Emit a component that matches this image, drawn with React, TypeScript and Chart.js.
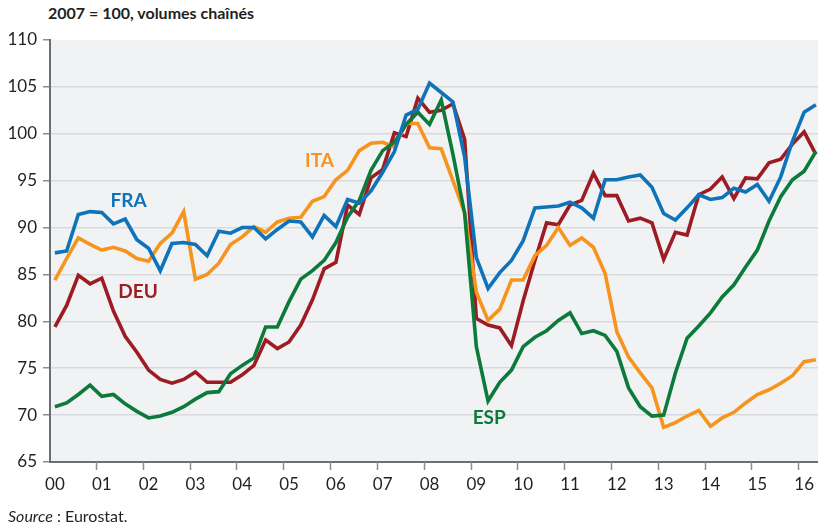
import React, { useEffect, useRef } from 'react';
import { Chart, registerables } from 'chart.js';

Chart.register(...registerables);

// Quarterly values, 2000 Q1 to 2016 Q2 (index 2007 = 100)
const yearLabels = ['00', '01', '02', '03', '04', '05', '06', '07', '08', '09', '10', '11', '12', '13', '14', '15', '16'];

const fra = [87.3, 87.5, 91.4, 91.7, 91.6, 90.4, 90.9, 88.7, 87.8, 85.4, 88.3, 88.4, 88.2, 87.0, 89.6, 89.4, 90.0, 90.0, 88.8, 89.8, 90.7, 90.6, 89.0, 91.3, 90.1, 93.0, 92.6, 93.9, 95.9, 98.1, 102.0, 102.6, 105.4, 104.4, 103.4, 97.5, 86.8, 83.5, 85.2, 86.5, 88.6, 92.1, 92.2, 92.3, 92.7, 92.1, 91.0, 95.1, 95.1, 95.4, 95.6, 94.3, 91.5, 90.8, 92.1, 93.5, 93.0, 93.2, 94.2, 93.8, 94.6, 92.8, 95.4, 99.2, 102.3, 103.1];

const deu = [79.4, 81.7, 84.9, 84.0, 84.6, 81.1, 78.4, 76.7, 74.8, 73.8, 73.4, 73.8, 74.6, 73.5, 73.5, 73.5, 74.3, 75.3, 78.0, 77.1, 77.8, 79.6, 82.3, 85.6, 86.3, 92.4, 91.4, 95.3, 96.2, 100.1, 99.7, 103.8, 102.3, 102.5, 103.2, 99.4, 80.3, 79.6, 79.3, 77.4, 82.2, 86.5, 90.5, 90.3, 92.4, 92.9, 95.8, 93.4, 93.4, 90.7, 91.0, 90.5, 86.6, 89.5, 89.2, 93.5, 94.1, 95.4, 93.1, 95.3, 95.2, 96.9, 97.3, 98.9, 100.2, 97.8];

const ita = [84.4, 86.7, 88.9, 88.2, 87.6, 87.9, 87.5, 86.7, 86.4, 88.3, 89.4, 91.7, 84.5, 85.0, 86.2, 88.2, 89.0, 90.1, 89.5, 90.6, 91.0, 91.1, 92.8, 93.3, 95.1, 96.1, 98.2, 99.0, 99.1, 98.6, 101.1, 101.1, 98.5, 98.4, 95.0, 91.6, 83.1, 80.1, 81.3, 84.4, 84.4, 87.0, 88.1, 90.0, 88.1, 88.9, 87.9, 85.1, 78.9, 76.2, 74.5, 72.9, 68.7, 69.2, 69.9, 70.5, 68.8, 69.7, 70.3, 71.3, 72.2, 72.7, 73.4, 74.2, 75.7, 75.9];

const esp = [70.9, 71.3, 72.2, 73.2, 72.0, 72.2, 71.2, 70.4, 69.7, 69.9, 70.3, 70.9, 71.7, 72.4, 72.5, 74.4, 75.3, 76.1, 79.4, 79.4, 82.1, 84.5, 85.4, 86.5, 88.4, 91.1, 92.9, 96.1, 98.2, 99.1, 101.0, 102.3, 101.0, 103.6, 97.8, 91.5, 77.3, 71.5, 73.5, 74.8, 77.3, 78.3, 79.0, 80.1, 80.9, 78.7, 79.0, 78.5, 76.8, 72.9, 70.9, 69.9, 70.0, 74.5, 78.2, 79.5, 80.9, 82.6, 83.9, 85.8, 87.6, 90.7, 93.3, 95.1, 96.0, 98.1];

const seriesNames = ['FRA', 'ESP', 'ITA', 'DEU'];
const seriesColors = ['#0f73ba', '#0b7a3b', '#f7941d', '#9d1c24'];
const seriesValues = [fra, esp, ita, deu];
// label anchor in data coordinates (quarter index, value)
const labelX = [6.3, 37.1, 22.6, 7.1];
const labelY = [92.8, 69.7, 97.1, 83.1];

const FONT = 'Lato, "Open Sans", sans-serif';

const decorPlugin = {
  id: 'decor',
  beforeDraw(chart: any) {
    const { ctx, chartArea: a } = chart;
    ctx.save();
    ctx.fillStyle = '#f1f2f4';
    ctx.fillRect(a.left, a.top, a.right - a.left, a.bottom - a.top);
    ctx.restore();
  },
  afterDraw(chart: any) {
    const { ctx, chartArea: a } = chart;
    const xs = chart.scales.x;
    const ys = chart.scales.y;
    ctx.save();
    // x tick marks between years
    ctx.strokeStyle = '#8c8c8c';
    ctx.lineWidth = 1.5;
    for (let k = 0; k < yearLabels.length; k++) {
      const v = 4 * k + 3.5;
      if (v > xs.max) break;
      const px = Math.round(xs.getPixelForValue(v)) + 0.5;
      ctx.beginPath();
      ctx.moveTo(px, a.bottom);
      ctx.lineTo(px, a.bottom + 8);
      ctx.stroke();
    }
    // series labels
    ctx.font = `bold 19px ${FONT}`;
    ctx.textAlign = 'center';
    ctx.textBaseline = 'middle';
    for (let s = 0; s < seriesNames.length; s++) {
      ctx.fillStyle = seriesColors[s];
      ctx.fillText(seriesNames[s], xs.getPixelForValue(labelX[s]), ys.getPixelForValue(labelY[s]));
    }
    ctx.restore();
  },
};

export default function App() {
  const ref = useRef<HTMLCanvasElement | null>(null);

  useEffect(() => {
    if (!ref.current) return;
    const datasets = seriesValues.map((vals, s) => ({
      label: seriesNames[s],
      data: vals.map((v, i) => ({ x: i, y: v })),
      borderColor: seriesColors[s],
      backgroundColor: seriesColors[s],
      borderWidth: 3.6,
      pointRadius: 0,
      tension: 0,
      fill: false,
      borderJoinStyle: 'miter' as const,
    }));

    const chart = new Chart(ref.current, {
      type: 'line',
      data: { datasets },
      options: {
        animation: false,
        responsive: true,
        maintainAspectRatio: false,
        layout: { padding: { top: 40, right: 0, bottom: 0, left: 0 } },
        plugins: { legend: { display: false }, tooltip: { enabled: false }, title: { display: false } },
        scales: {
          x: {
            type: 'linear',
            min: -0.42,
            max: 65.18,
            afterBuildTicks: (s: any) => {
              s.ticks = yearLabels.map((_, k) => ({ value: 4 * k }));
            },
            afterFit: (s: any) => {
              s.height = 66;
            },
            ticks: {
              autoSkip: false,
              maxRotation: 0,
              padding: 12,
              color: '#231f20',
              font: { family: FONT, size: 17 },
              callback: (v: any) => yearLabels[Math.round(Number(v) / 4)] ?? '',
            },
            grid: { drawOnChartArea: false, drawTicks: false },
            border: { display: true, color: '#6d6e71', width: 2 },
          },
          y: {
            type: 'linear',
            min: 65,
            max: 110,
            afterFit: (s: any) => {
              s.width = 50;
            },
            ticks: {
              stepSize: 5,
              padding: 6,
              color: '#231f20',
              font: { family: FONT, size: 17 },
            },
            grid: {
              color: (ctx: any) => (ctx.tick && (ctx.tick.value === 65 || ctx.tick.value === 110) ? 'rgba(0,0,0,0)' : '#d9dadd'),
              lineWidth: 1.5,
              tickColor: '#8c8c8c',
              tickLength: 7,
              drawTicks: true,
            },
            border: { display: true, color: '#6d6e71', width: 2 },
          },
        },
      },
      plugins: [decorPlugin],
    });
    return () => chart.destroy();
  }, []);

  return (
    <div style={{ position: 'fixed', left: 0, top: 0, width: 826, height: 528, background: '#ffffff', fontFamily: FONT }}>
      <div style={{ position: 'absolute', left: 48, top: 3, fontSize: 16, fontWeight: 700, color: '#231f20', whiteSpace: 'nowrap' }}>
        2007 = 100, volumes chaînés
      </div>
      <div style={{ position: 'absolute', left: 0, top: 0, width: 826, height: 528 }}>
        <canvas ref={ref} />
      </div>
      <div style={{ position: 'absolute', left: 8, top: 506, fontSize: 16, color: '#231f20', whiteSpace: 'nowrap' }}>
        <i>Source</i> : Eurostat.
      </div>
    </div>
  );
}
